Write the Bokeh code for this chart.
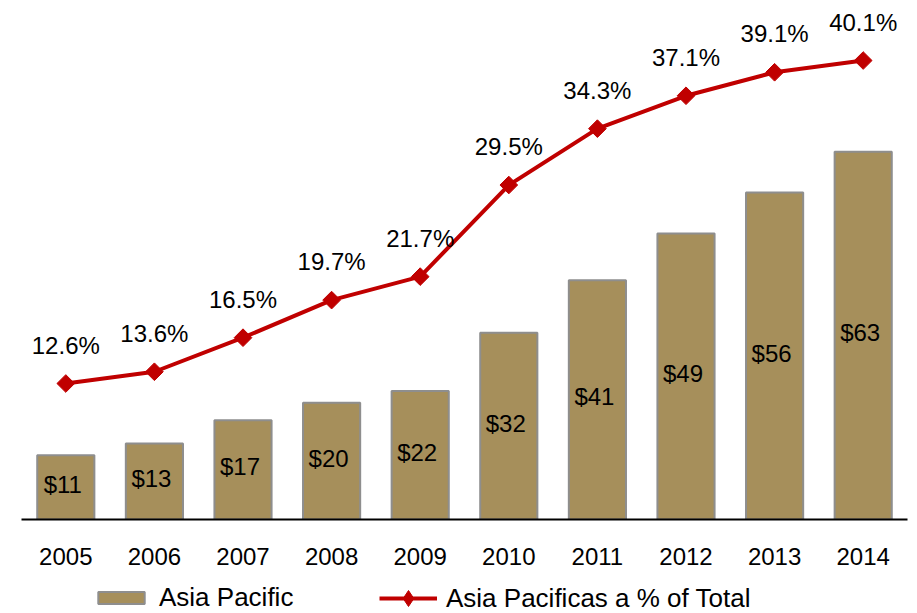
import math
from bokeh.plotting import figure
from bokeh.layouts import column
from bokeh.models import (ColumnDataSource, FactorRange, Range1d, LabelSet,
                          Legend, LegendItem)
from bokeh.core.properties import value
from bokeh.embed import file_html
from bokeh.resources import INLINE

years = ["2005", "2006", "2007", "2008", "2009", "2010", "2011", "2012", "2013", "2014"]
sales = [11, 13, 17, 20, 22, 32, 41, 49, 56, 63]
share = [12.6, 13.6, 16.5, 19.7, 21.7, 29.5, 34.3, 37.1, 39.1, 40.1]
series_names = ["Asia Pacific", "Asia Pacificas a % of Total"]

bar_labels = ["$%d" % v for v in sales]
pct_labels = ["%.1f%%" % v for v in share]

src = ColumnDataSource(dict(x=years, top=sales, mid=[v / 2 for v in sales],
                            lab=bar_labels, share=share, plab=pct_labels))

FONT = "Liberation Sans"
BAR_FILL = "#A68F5B"
BAR_LINE = "#8E8E8E"
RED = "#C00000"

p = figure(width=917, height=575, x_range=FactorRange(*years, range_padding=0),
           y_range=Range1d(0, 87.2), output_backend="svg", toolbar_location=None,
           min_border_left=21, min_border_right=10, min_border_top=10, min_border_bottom=56)
p.extra_y_ranges = {"pct": Range1d(1.02, 44.36)}

p.outline_line_color = None
p.grid.visible = False
p.yaxis.visible = False

xa = p.xaxis[0]
xa.axis_line_color = "black"
xa.axis_line_width = 2
xa.major_tick_line_color = None
xa.minor_tick_line_color = None
xa.major_label_text_font = FONT
xa.major_label_text_font_size = "24px"
xa.major_label_text_color = "black"
xa.major_label_standoff = 22

p.vbar(x="x", top="top", width=0.645, source=src,
       fill_color=BAR_FILL, line_color=BAR_LINE, line_width=2)
p.line(x="x", y="share", source=src, y_range_name="pct",
       line_color=RED, line_width=4)
p.scatter(x="x", y="share", source=src, y_range_name="pct", marker="square",
          angle=math.pi / 4, size=12.5, fill_color=RED, line_color=RED)

p.add_layout(LabelSet(x="x", y="mid", text="lab", source=src, text_align="center",
                      text_baseline="middle", x_offset=-3, y_offset=3,
                      text_font=value(FONT), text_font_size="24px", text_color="black"))
p.add_layout(LabelSet(x="x", y="share", text="plab", source=src, y_range_name="pct",
                      text_align="center", text_baseline="alphabetic", y_offset=30,
                      text_font=value(FONT), text_font_size="24px", text_color="black"))

# legend strip below the chart (same series as hidden renderers; only their legend shows)
lg = figure(width=917, height=38, x_range=FactorRange(*years, range_padding=0),
            y_range=Range1d(0, 87.2), output_backend="svg", toolbar_location=None,
            min_border_left=0, min_border_right=0, min_border_top=0, min_border_bottom=0)
lg.outline_line_color = None
lg.grid.visible = False
lg.axis.visible = False
lb = lg.vbar(x="x", top="top", width=0.645, source=src,
             fill_color=BAR_FILL, line_color=BAR_LINE, line_width=2)
ll = lg.line(x="x", y="share", source=src, line_color=RED, line_width=4)
ls = lg.scatter(x="x", y="share", source=src, marker="diamond",
                size=16, fill_color=RED, line_color=RED)
for r in (lb, ll, ls):
    r.visible = False

common = dict(orientation="horizontal", padding=0, margin=0, label_standoff=9,
              glyph_width=58, label_text_font=FONT, label_text_font_size="26px",
              label_text_color="black", border_line_alpha=0, background_fill_alpha=0,
              inactive_fill_alpha=0)
leg1 = Legend(items=[LegendItem(label=series_names[0], renderers=[lb])],
              location=(71, 0), glyph_height=15, **common)
leg2 = Legend(items=[LegendItem(label=series_names[1], renderers=[ll, ls])],
              location=(358, -5), glyph_height=40, **common)
lg.add_layout(leg1, "center")
lg.add_layout(leg2, "center")

layout = column(p, lg, spacing=0)
open("out.html", "w").write(file_html(layout, INLINE))
